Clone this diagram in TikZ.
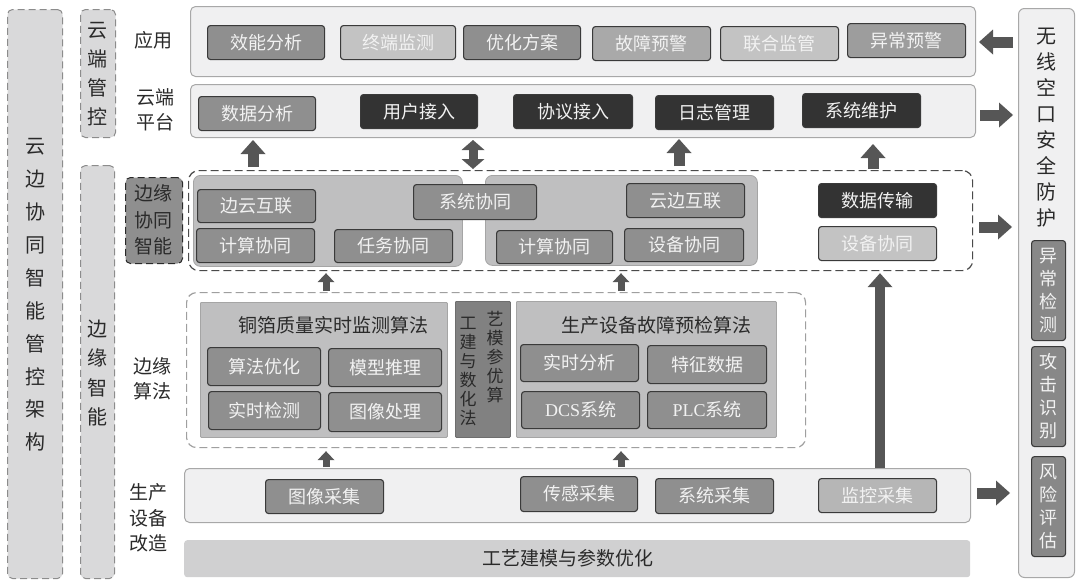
\documentclass[tikz,border=0pt]{standalone}
\usepackage{fontspec}
\setmainfont{Liberation Serif}
\newfontfamily\cjk{Noto Sans CJK SC}
\usetikzlibrary{arrows.meta}
\definecolor{bandfill}{HTML}{F0F0F1}
\definecolor{bandline}{HTML}{A8A8A8}
\definecolor{panelfill}{HTML}{BFBFC0}
\definecolor{panelline}{HTML}{A5A5A5}
\definecolor{darkbox}{HTML}{333333}
\definecolor{boxline}{HTML}{3A3A3A}
\definecolor{gA}{HTML}{8F8F8F}
\definecolor{gB}{HTML}{C3C3C3}
\definecolor{gC}{HTML}{A9A9A9}
\definecolor{gD}{HTML}{9D9D9D}
\definecolor{gE}{HTML}{B6B6B6}
\definecolor{midpanel}{HTML}{818181}
\definecolor{arrowc}{HTML}{565656}
\definecolor{colfill}{HTML}{D9D9DA}
\definecolor{colline}{HTML}{8C8C8C}
\definecolor{txtdark}{HTML}{2A2A2A}
\definecolor{txtlight}{HTML}{F2F2F2}
\definecolor{barfill}{HTML}{D0D0D1}
\newcommand\mkbox[7]{\node[item,#1,minimum width=#5pt,minimum height=#6pt] (#2) at (#3,#4) {#7};}
\tikzset{
  item/.style={draw=boxline, line width=1.1pt, rounded corners=3pt, text=txtlight, anchor=north west, inner sep=0pt, font=\cjk\fontsize{18}{20}\selectfont},
  band/.style={draw=bandline, fill=bandfill, line width=1pt, rounded corners=5pt, anchor=north west, inner sep=0pt},
  panel/.style={draw=panelline, fill=panelfill, line width=0.8pt, rounded corners=7pt, anchor=north west, inner sep=0pt},
  dashreg/.style={draw=#1, line width=1.2pt, dash pattern=on 8pt off 4pt, rounded corners=10pt, anchor=north west, inner sep=0pt},
  colbox/.style={draw=colline, fill=colfill, line width=1pt, dash pattern=on 7pt off 4pt, rounded corners=5pt, anchor=north west, inner sep=0pt},
  lbl/.style={text=txtdark, font=\cjk\fontsize{19}{25.5}\selectfont, align=center, inner sep=0pt},
  vtxt/.style={text=txtdark, align=center, inner sep=0pt},
  blk/.style={draw=arrowc, line width=11pt, -{Triangle[width=25pt,length=14pt,line width=0pt]}},
  blkd/.style={draw=arrowc, line width=9pt, {Triangle[width=23pt,length=10pt,line width=0pt]}-{Triangle[width=23pt,length=10pt,line width=0pt]}},
  sblk/.style={draw=arrowc, line width=7pt, -{Triangle[width=17pt,length=9pt,line width=0pt]}},
}
\begin{document}
\begin{tikzpicture}[x=1pt,y=-1pt]
\useasboundingbox (0,0) rectangle (1080,584);

% left columns
\node[colbox, minimum width=55pt, minimum height=569pt] (archcol) at (7,9) {};
\node[vtxt, font=\cjk\fontsize{20}{32.9}\selectfont] (archtxt) at (35,295) {云\\边\\协\\同\\智\\能\\管\\控\\架\\构};
\node[colbox, minimum width=35pt, minimum height=128pt] (cloudcol) at (80,9) {};
\node[vtxt, font=\cjk\fontsize{20}{29}\selectfont] (cloudtxt) at (97.5,74) {云\\端\\管\\控};
\node[colbox, minimum width=34pt, minimum height=413pt] (edgecol) at (80,165) {};
\node[vtxt, font=\cjk\fontsize{20}{29.6}\selectfont] (edgetxt) at (97,373) {边\\缘\\智\\能};

% row labels
\node[lbl] (lapp) at (153,40) {应用};
\node[lbl] (lplat) at (155,110) {云端\\平台};
\node[colbox, fill=gA, draw=txtdark, minimum width=57pt, minimum height=86pt] (lcollab) at (125,177) {};
\node[lbl, font=\cjk\fontsize{19}{26.5}\selectfont] (lcollabt) at (153,220) {边缘\\协同\\智能};
\node[lbl] (lalg) at (152,379) {边缘\\算法};
\node[lbl] (lprod) at (148,518) {生产\\设备\\改造};

% application band
\node[band, minimum width=785pt, minimum height=70pt] (app) at (190,6) {};
\mkbox{fill=gA}{a1}{207}{25}{117}{34}{效能分析}
\mkbox{fill=gB}{a2}{340}{25}{115}{34}{终端监测}
\mkbox{fill=gA}{a3}{463}{25}{117}{34}{优化方案}
\mkbox{fill=gC}{a4}{592}{26}{118}{34}{故障预警}
\mkbox{fill=gB}{a5}{720}{26}{118}{34}{联合监管}
\mkbox{fill=gD}{a6}{847}{23}{118}{34}{异常预警}

% platform band
\node[band, minimum width=785pt, minimum height=53pt] (plat) at (190,84) {};
\mkbox{fill=gA}{p1}{198}{96}{117}{34}{数据分析}
\mkbox{fill=darkbox}{p2}{360}{94}{117}{34}{用户接入}
\mkbox{fill=darkbox}{p3}{513}{94}{119}{34}{协议接入}
\mkbox{fill=darkbox}{p4}{655}{95}{118}{34}{日志管理}
\mkbox{fill=darkbox}{p5}{802}{93}{118}{34}{系统维护}

% edge collaboration region
\node[dashreg=txtdark!85, minimum width=784pt, minimum height=100pt] (collab) at (188,170) {};
\node[panel, minimum width=269pt, minimum height=91pt] (cpl) at (193,175) {};
\node[panel, minimum width=272pt, minimum height=90pt] (cpr) at (485,175) {};
\mkbox{fill=gA}{c1}{197}{189}{118}{33}{边云互联}
\mkbox{fill=gA}{c2}{196}{228}{118}{34}{计算协同}
\mkbox{fill=gA}{c3}{334}{229}{118}{33}{任务协同}
\mkbox{fill=gA}{c4}{413}{184}{123}{35}{系统协同}
\mkbox{fill=gA}{c5}{626}{183}{118}{34}{云边互联}
\mkbox{fill=gA}{c6}{496}{230}{116}{33}{计算协同}
\mkbox{fill=gA}{c7}{624}{228}{119}{33}{设备协同}
\mkbox{fill=darkbox}{c8}{818}{183}{118}{34}{数据传输}
\mkbox{fill=gB}{c9}{818}{226}{118}{34}{设备协同}

% edge algorithm region
\node[dashreg=gray!75, minimum width=619pt, minimum height=155pt] (alg) at (186,292) {};
\node[panel, fill=panelfill, rounded corners=1pt, minimum width=247pt, minimum height=135pt] (apl) at (200,302) {};
\node[lbl] (aplt) at (333,325) {铜箔质量实时监测算法};
\mkbox{fill=gA}{g1}{207}{347}{113}{38}{算法优化}
\mkbox{fill=gA}{g2}{328}{348}{113}{38}{模型推理}
\mkbox{fill=gA}{g3}{208}{391}{112}{38}{实时检测}
\mkbox{fill=gA}{g4}{328}{392}{113}{39}{图像处理}
\node[panel, fill=midpanel, draw=midpanel!85!black, rounded corners=1pt, minimum width=55pt, minimum height=136pt] (amid) at (455,301) {};
\node[vtxt, font=\cjk\fontsize{17}{19}\selectfont] (amidl) at (468,371) {工\\建\\与\\数\\化\\法};
\node[vtxt, font=\cjk\fontsize{17}{19}\selectfont] (amidr) at (495,357) {艺\\模\\参\\优\\算};
\node[panel, fill=panelfill, rounded corners=1pt, minimum width=260pt, minimum height=136pt] (apr) at (516,301) {};
\node[lbl] (aprt) at (656,325) {生产设备故障预检算法};
\mkbox{fill=gA}{h1}{520}{344}{118}{37}{实时分析}
\mkbox{fill=gA}{h2}{647}{345}{119}{38}{特征数据}
\mkbox{fill=gA}{h3}{521}{391}{118}{37}{{\rmfamily DCS}系统}
\mkbox{fill=gA}{h4}{647}{391}{119}{37}{{\rmfamily PLC}系统}

% production band
\node[band, minimum width=786pt, minimum height=54pt] (prod) at (184,468) {};
\mkbox{fill=gA}{m1}{265}{479}{118}{34}{图像采集}
\mkbox{fill=gA}{m2}{520}{476}{117}{35}{传感采集}
\mkbox{fill=gA}{m3}{655}{478}{118}{35}{系统采集}
\mkbox{fill=gE}{m4}{818}{478}{118}{34}{监控采集}

% bottom bar
\node[anchor=north west, fill=barfill, rounded corners=3pt, inner sep=0pt, minimum width=786pt, minimum height=37pt, text=txtdark, font=\cjk\fontsize{19}{20}\selectfont] (bar) at (184,540) {工艺建模与参数优化\hspace*{18pt}};

% security column
\node[band, rounded corners=6pt, minimum width=56pt, minimum height=569pt] (sec) at (1018,8) {};
\node[vtxt, font=\cjk\fontsize{20}{26}\selectfont] (sectxt) at (1046,128) {无\\线\\空\\口\\安\\全\\防\\护};
\node[item, fill=gA!95!black, align=center, font=\cjk\fontsize{18}{23}\selectfont, minimum width=34pt, minimum height=100pt] (s1) at (1031,240) {异\\常\\检\\测};
\node[item, fill=gA!95!black, align=center, font=\cjk\fontsize{18}{23}\selectfont, minimum width=34pt, minimum height=100pt] (s2) at (1031,346) {攻\\击\\识\\别};
\node[item, fill=gA!95!black, align=center, font=\cjk\fontsize{18}{23}\selectfont, minimum width=34pt, minimum height=100pt] (s3) at (1031,456) {风\\险\\评\\估};

% arrows collab -> platform
\draw[blk, shorten <=3pt, shorten >=2pt] (253,0 |- collab.north) -- (253,0 |- plat.south);
\draw[blkd, shorten <=1pt, shorten >=2pt] (473,0 |- collab.north) -- (473,0 |- plat.south);
\draw[blk, shorten <=4pt, shorten >=1pt] (679,0 |- collab.north) -- (679,0 |- plat.south);
\draw[blk, shorten <=1pt, shorten >=6pt] (873,0 |- collab.north) -- (873,0 |- plat.south);

% arrows production -> algorithm -> collab
\draw[sblk, shorten <=1pt, shorten >=3pt] (326,0 |- prod.north) -- (326,0 |- alg.south);
\draw[sblk, shorten <=1pt, shorten >=3pt] (621,0 |- prod.north) -- (621,0 |- alg.south);
\draw[sblk, shorten <=1pt, shorten >=2pt] (326,0 |- alg.north) -- (326,0 |- collab.south);
\draw[sblk, shorten <=1pt, shorten >=2pt] (621,0 |- alg.north) -- (621,0 |- collab.south);
\draw[blk, line width=10pt, shorten <=0pt, shorten >=2pt] (880,0 |- prod.north) -- (880,0 |- collab.south);

% arrows to / from security column
\draw[blk, shorten <=5pt, shorten >=3pt] (sec.west |- 0,42) -- (app.east |- 0,42);
\draw[blk, shorten <=4pt, shorten >=5pt] (plat.east |- 0,115) -- (sec.west |- 0,115);
\draw[blk, shorten <=6pt, shorten >=6pt] (collab.east |- 0,227) -- (sec.west |- 0,227);
\draw[blk, shorten <=6pt, shorten >=8pt] (prod.east |- 0,493) -- (sec.west |- 0,493);
\end{tikzpicture}
\end{document}
